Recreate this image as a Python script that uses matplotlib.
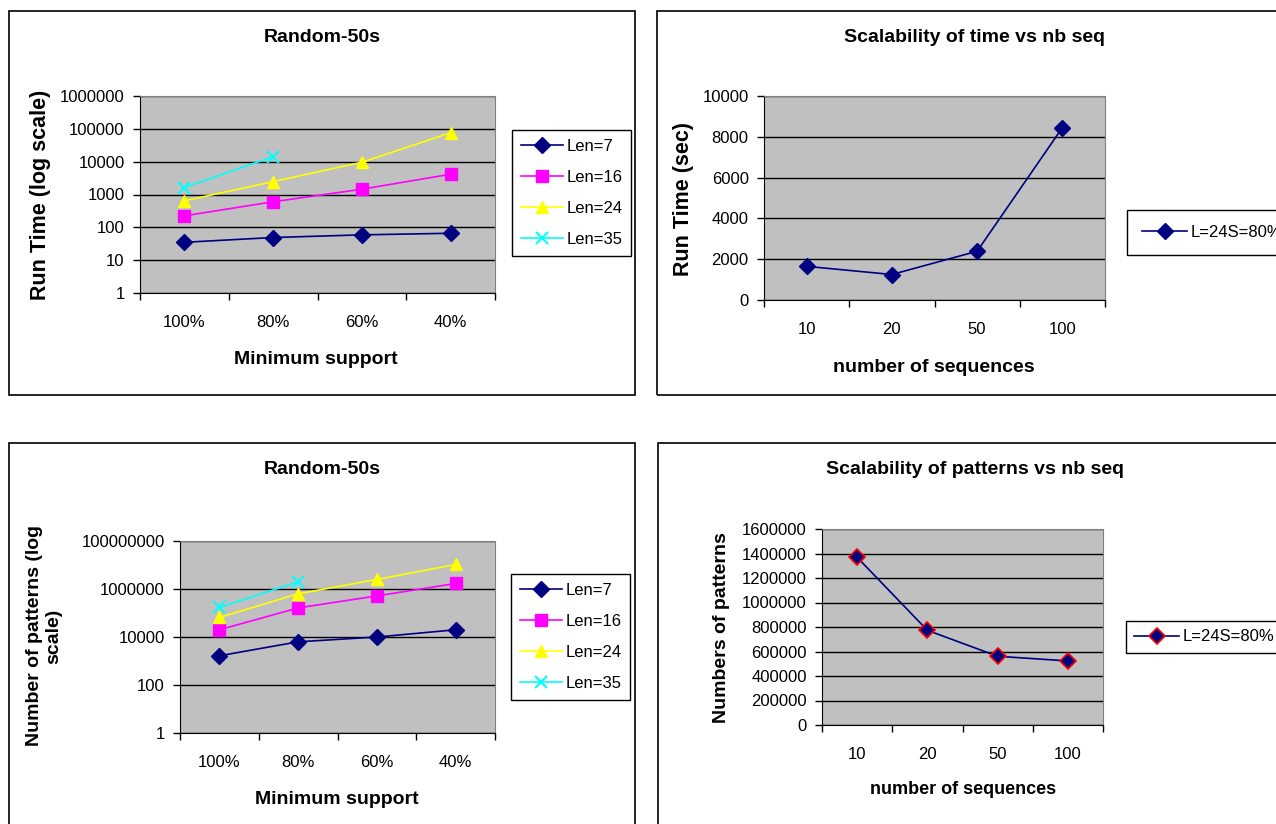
import matplotlib
matplotlib.use("Agg")
import matplotlib.pyplot as plt
from matplotlib.patches import Rectangle
from matplotlib.ticker import FixedLocator, FuncFormatter

plt.rcParams['font.family'] = ['Liberation Sans', 'DejaVu Sans']

W, H = 1276, 824

# donnees
supports = ['100%', '80%', '60%', '40%']
lengths = ['Len=7', 'Len=16', 'Len=24', 'Len=35']
time_len7 = [35, 49, 59, 66]
time_len16 = [224, 600, 1450, 4150]
time_len24 = [640, 2470, 9600, 76000]
time_len35 = [1630, 14200]
pat_len7 = [1650, 6300, 10000, 20000]
pat_len16 = [20000, 163000, 516000, 1700000]
pat_len24 = [65000, 630000, 2500000, 10500000]
pat_len35 = [170000, 2000000]

nb_seq = ['10', '20', '50', '100']
time_nbseq = [1650, 1250, 2390, 8450]
patterns_nbseq = [1369000, 773000, 561000, 523000]
serie_nbseq = 'L=24S=80%'

NAVY = '#000080'
styles = [dict(color=NAVY, marker='D', ms=8),
          dict(color='#FF00FF', marker='s', ms=8),
          dict(color='#FFFF00', marker='^', ms=9),
          dict(color='#00FFFF', marker='x', ms=9, mew=1.5)]

fig = plt.figure(figsize=(W / 100, H / 100), dpi=100)


def box(x0, y0, x1, y1):
    return [x0 / W, 1 - y1 / H, (x1 - x0) / W, (y1 - y0) / H]


def cadre(x0, y0, x1, y1):
    fig.add_artist(Rectangle((x0 / W, 1 - y1 / H), (x1 - x0) / W, (y1 - y0) / H,
                             transform=fig.transFigure, fill=False,
                             edgecolor='black', lw=1.2))


def texte(x, y, s, size=14, rot=0):
    fig.text(x / W, 1 - y / H, s, ha='center', va='center', fontsize=size,
             fontweight='bold', rotation=rot, multialignment='center')


def style(ax, cats):
    ax.set_facecolor('#C0C0C0')
    ax.set_axisbelow(True)
    ax.yaxis.grid(True, color='black', lw=1)
    for s in ['top', 'right']:
        ax.spines[s].set_color('#808080')
    for s in ['left', 'bottom']:
        ax.spines[s].set_color('black')
    ax.set_xlim(-0.5, len(cats) - 0.5)
    ax.set_xticks(range(len(cats)))
    ax.set_xticklabels(cats)
    ax.xaxis.set_minor_locator(FixedLocator([i - 0.5 for i in range(len(cats) + 1)]))
    ax.tick_params(axis='x', which='major', length=0, pad=16, labelsize=12)
    ax.tick_params(axis='x', which='minor', length=5, width=1, direction='out')
    ax.tick_params(axis='y', direction='out', length=5, width=1, pad=6, labelsize=12)


def legende(ax, x, y, **kw):
    leg = ax.legend(loc='upper left', bbox_to_anchor=(x / W, 1 - y / H),
                    bbox_transform=fig.transFigure, fancybox=False,
                    edgecolor='black', framealpha=1, borderaxespad=0,
                    fontsize=12, handletextpad=0.2, **kw)
    leg.get_frame().set_linewidth(1)


entiers = FuncFormatter(lambda v, p: '%d' % v)

# panneau 1 : temps, echelle log
cadre(9, 11, 635, 395)
ax1 = fig.add_axes(box(140, 96, 495, 293))
for serie, lab, st in zip([time_len7, time_len16, time_len24, time_len35], lengths, styles):
    ax1.plot(range(len(serie)), serie, lw=1.2, label=lab, **st)
ax1.set_yscale('log')
ax1.set_ylim(1, 1e6)
ax1.yaxis.set_major_locator(FixedLocator([10 ** i for i in range(7)]))
ax1.yaxis.set_major_formatter(entiers)
ax1.yaxis.set_minor_locator(FixedLocator([]))
style(ax1, supports)
legende(ax1, 512, 130, handlelength=2.5, labelspacing=0.95, borderpad=0.55)
texte(322, 37, 'Random-50s')
texte(316, 359, 'Minimum support')
texte(41, 195, 'Run Time (log scale)', size=15.5, rot=90)

# panneau 2 : temps vs nb seq
cadre(657, 11, 1290, 395)
ax2 = fig.add_axes(box(764, 96, 1105, 300))
ax2.plot(range(4), time_nbseq, color=NAVY, marker='D', ms=8, lw=1.2, label=serie_nbseq)
ax2.set_ylim(0, 10000)
ax2.set_yticks(range(0, 10001, 2000))
style(ax2, nb_seq)
legende(ax2, 1127, 210, handlelength=2.7, borderpad=0.9)
texte(975, 37, 'Scalability of time vs nb seq')
texte(934, 367, 'number of sequences')
texte(683, 199, 'Run Time (sec)', size=15.5, rot=90)

# panneau 3 : motifs, echelle log
cadre(9, 443, 635, 840)
ax3 = fig.add_axes(box(180, 541, 495, 733))
for serie, lab, st in zip([pat_len7, pat_len16, pat_len24, pat_len35], lengths, styles):
    ax3.plot(range(len(serie)), serie, lw=1.2, label=lab, **st)
ax3.set_yscale('log')
ax3.set_ylim(1, 1e8)
ax3.yaxis.set_major_locator(FixedLocator([10 ** i for i in range(0, 9, 2)]))
ax3.yaxis.set_major_formatter(entiers)
ax3.yaxis.set_minor_locator(FixedLocator([]))
style(ax3, supports)
legende(ax3, 511, 574, handlelength=2.5, labelspacing=0.95, borderpad=0.55)
texte(322, 470, 'Random-50s')
texte(337, 800, 'Minimum support')
texte(44, 636, 'Number of patterns (log\nscale)', rot=90)

# panneau 4 : motifs vs nb seq
cadre(658, 443, 1290, 840)
ax4 = fig.add_axes(box(822, 529, 1103, 725))
ax4.plot(range(4), patterns_nbseq, color=NAVY, marker='D', ms=8, mec='#FF0000',
         mew=1.2, lw=1.2, label=serie_nbseq)
ax4.set_ylim(0, 1600000)
ax4.set_yticks(range(0, 1600001, 200000))
ax4.yaxis.set_major_formatter(entiers)
style(ax4, nb_seq)
legende(ax4, 1126, 621, handlelength=2.7, borderpad=0.5)
texte(975, 470, 'Scalability of patterns vs nb seq')
texte(963, 790, 'number of sequences', size=13)
texte(722, 628, 'Numbers of patterns', rot=90)

fig.savefig('out.png', dpi=100)
